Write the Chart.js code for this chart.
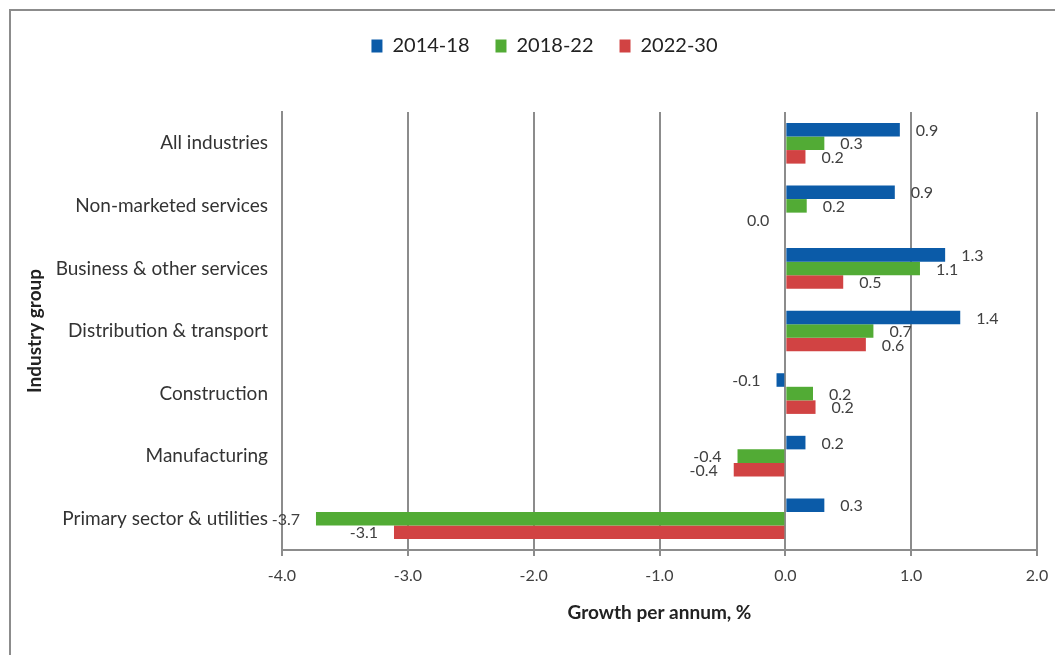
<!DOCTYPE html>
<html>
<head>
<meta charset="utf-8">
<script src="https://cdn.jsdelivr.net/npm/chart.js@4"></script>
<style>
  html, body { margin: 0; padding: 0; background: #fff; }
  #frame { position: absolute; left: 9px; top: 9px; width: 1200px; height: 800px;
           border-left: 2px solid #8c8c8c; border-top: 2px solid #8c8c8c; }
  #growthChart { position: absolute; left: 0; top: 0; }
</style>
</head>
<body>
<div id="frame"></div>
<canvas id="growthChart" width="1055" height="655"></canvas>
<script>
const industries = [
    'All industries',
    'Non-marketed services',
    'Business & other services',
    'Distribution & transport',
    'Construction',
    'Manufacturing',
    'Primary sector & utilities'
];
const growth2014to18 = [0.91, 0.87, 1.27, 1.39, -0.07, 0.16, 0.31];
const growth2018to22 = [0.31, 0.17, 1.07, 0.70, 0.22, -0.38, -3.73];
const growth2022to30 = [0.16, 0.00, 0.46, 0.64, 0.24, -0.41, -3.11];

const FONT = 'Lato, "Open Sans", sans-serif';

// bar-end value labels, like Excel's "outside end"
const valueLabels = {
    id: 'valueLabels',
    afterDatasetsDraw(chart) {
        const ctx = chart.ctx;
        ctx.save();
        ctx.font = '16px ' + FONT;
        ctx.fillStyle = '#404040';
        ctx.textBaseline = 'middle';
        chart.data.datasets.forEach((ds, i) => {
            chart.getDatasetMeta(i).data.forEach((bar, j) => {
                const v = ds.data[j];
                let txt = v.toFixed(1);
                if (txt === '-0.0') txt = '0.0';
                if (v > 0) {
                    ctx.textAlign = 'left';
                    ctx.fillText(txt, bar.x + 16, bar.y + 1);
                } else {
                    ctx.textAlign = 'right';
                    ctx.fillText(txt, bar.x - 16, bar.y + 1);
                }
            });
        });
        ctx.restore();
    }
};

// extra room under the legend and nudge it right
const legendSpacing = {
    id: 'legendSpacing',
    beforeInit(chart) {
        const fit = chart.legend.fit;
        chart.legend.fit = function () {
            fit.bind(chart.legend)();
            this.height += 46;
        };
    },
    afterLayout(chart) {
        chart.legend.left += 21;
        chart.legend.right += 21;
    }
};

const ctx = document.getElementById('growthChart').getContext('2d');
const chart = new Chart(ctx, {
    type: 'bar',
    data: {
        labels: industries,
        datasets: [
            { label: '2014-18', data: growth2014to18, backgroundColor: '#0B5BA8' },
            { label: '2018-22', data: growth2018to22, backgroundColor: '#52AB35' },
            { label: '2022-30', data: growth2022to30, backgroundColor: '#D14343' }
        ]
    },
    options: {
        indexAxis: 'y',
        responsive: false,
        animation: false,
        categoryPercentage: 0.65,
        barPercentage: 1.0,
        layout: { padding: { left: 10, top: 10, right: 18, bottom: 0 } },
        plugins: {
            tooltip: { enabled: false },
            legend: {
                position: 'top',
                labels: {
                    boxWidth: 11,
                    boxHeight: 13,
                    padding: 26,
                    color: '#222',
                    font: { family: FONT, size: 20 }
                }
            }
        },
        scales: {
            x: {
                min: -4,
                max: 2,
                ticks: {
                    stepSize: 1,
                    padding: 10,
                    color: '#404040',
                    font: { family: FONT, size: 16 },
                    callback: (v) => Number(v).toFixed(1)
                },
                grid: { color: '#8c8c8c', lineWidth: 2, tickLength: 6 },
                border: { color: '#8c8c8c', width: 2 },
                title: {
                    display: true,
                    text: 'Growth per annum, %',
                    color: '#222',
                    font: { family: FONT, size: 19, weight: 'bold' },
                    padding: { top: 0, bottom: 31 }
                },
                afterFit(scale) {
                    scale.height = 105;
                    scale.paddingRight = 0;
                    scale.paddingLeft = 0;
                }
            },
            y: {
                grid: { display: false },
                border: { color: '#8c8c8c', width: 2 },
                ticks: {
                    padding: 6,
                    color: '#333',
                    font: { family: FONT, size: 19 }
                },
                title: {
                    display: true,
                    text: 'Industry group',
                    color: '#222',
                    font: { family: FONT, size: 19, weight: 'bold' },
                    padding: { top: 13, bottom: 0 }
                },
                afterFit(scale) { scale.width = 272; }
            }
        }
    },
    plugins: [valueLabels, legendSpacing]
});
</script>
</body>
</html>
